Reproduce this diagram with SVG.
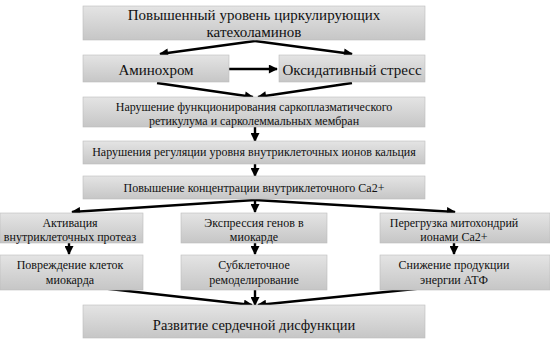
<svg xmlns="http://www.w3.org/2000/svg" width="550" height="340" viewBox="0 0 550 340" font-family="'Liberation Serif', 'DejaVu Serif', serif">
<defs>
<linearGradient id="g" x1="0" y1="0" x2="0" y2="1">
<stop offset="0" stop-color="#e4e4e4"/>
<stop offset="1" stop-color="#c6c6c6"/>
</linearGradient>
<marker id="ah" viewBox="0 0 10 10" refX="9" refY="5" markerWidth="10" markerHeight="9" markerUnits="userSpaceOnUse" orient="auto">
<path d="M0,0 L10,5 L0,10 z" fill="#000"/>
</marker>
</defs>
<style>
rect.b{fill:url(#g);stroke:#bdbdbd;stroke-width:0.6}
text{font-family:'Liberation Serif','DejaVu Serif',serif;fill:#111;text-anchor:middle}
.l{font-size:15px}
.m{font-size:12px}
.f{font-size:14.5px}
#connectors path{stroke:#000;stroke-width:2.4;fill:none;marker-end:url(#ah)}
</style>
<rect width="550" height="340" fill="#fff"/>
<g id="connectors">
<path d="M255,41 L160,54"/>
<path d="M255,41 L352,54"/>
<path d="M229,69 L277,69"/>
<path d="M157,83 L253,97"/>
<path d="M352,83 L258,97"/>
<path d="M255,127 L255,141"/>
<path d="M255,164 L255,176"/>
<path d="M255,200 L72,212"/>
<path d="M255,200 L255,212"/>
<path d="M255,200 L455,212"/>
<path d="M69,243 L69,254"/>
<path d="M255,243 L255,254"/>
<path d="M454,243 L454,254"/>
<path d="M92,287 L252,305"/>
<path d="M255,290 L255,305"/>
<path d="M454,285 L258,305"/>
</g>
<g id="n1"><rect class="b" x="83" y="6" width="342" height="34"/>
<text class="l" x="254" y="20">Повышенный уровень циркулирующих</text>
<text class="l" x="254" y="37">катехоламинов</text></g>
<g id="n2"><rect class="b" x="83" y="55" width="146" height="27"/>
<text class="l" x="156" y="75">Аминохром</text></g>
<g id="n3"><rect class="b" x="279" y="55" width="146" height="27"/>
<text class="l" x="352" y="75">Оксидативный стресс</text></g>
<g id="n4"><rect class="b" x="83" y="97" width="342" height="30"/>
<text class="m" x="254" y="111">Нарушение функционирования саркоплазматического</text>
<text class="m" x="254" y="125">ретикулума и сарколеммальных мембран</text></g>
<g id="n5"><rect class="b" x="83" y="141" width="342" height="23"/>
<text class="m" x="254" y="156">Нарушения регуляции уровня внутриклеточных ионов кальция</text></g>
<g id="n6"><rect class="b" x="83" y="176" width="342" height="23"/>
<text class="m" x="254" y="192">Повышение концентрации внутриклеточного Ca2+</text></g>
<g id="n7"><rect class="b" x="0" y="213" width="143" height="30"/>
<text class="m" x="70" y="227">Активация</text>
<text class="m" x="70" y="241">внутриклеточных протеаз</text></g>
<g id="n8"><rect class="b" x="181" y="213" width="146" height="30"/>
<text class="m" x="254" y="227">Экспрессия генов в</text>
<text class="m" x="254" y="241">миокарде</text></g>
<g id="n9"><rect class="b" x="380" y="213" width="170" height="30"/>
<text class="m" x="454" y="227">Перегрузка митохондрий</text>
<text class="m" x="454" y="241">ионами Ca2+</text></g>
<g id="n10"><rect class="b" x="0" y="255" width="143" height="35"/>
<text class="m" x="70" y="269">Повреждение клеток</text>
<text class="m" x="70" y="284">миокарда</text></g>
<g id="n11"><rect class="b" x="181" y="255" width="146" height="35"/>
<text class="m" x="254" y="269">Субклеточное</text>
<text class="m" x="254" y="284">ремоделирование</text></g>
<g id="n12"><rect class="b" x="380" y="255" width="170" height="35"/>
<text class="m" x="454" y="269">Снижение продукции</text>
<text class="m" x="454" y="284">энергии АТФ</text></g>
<g id="n13"><rect class="b" x="83" y="305" width="342" height="33"/>
<text class="f" x="254" y="330">Развитие сердечной дисфункции</text></g>
</svg>
